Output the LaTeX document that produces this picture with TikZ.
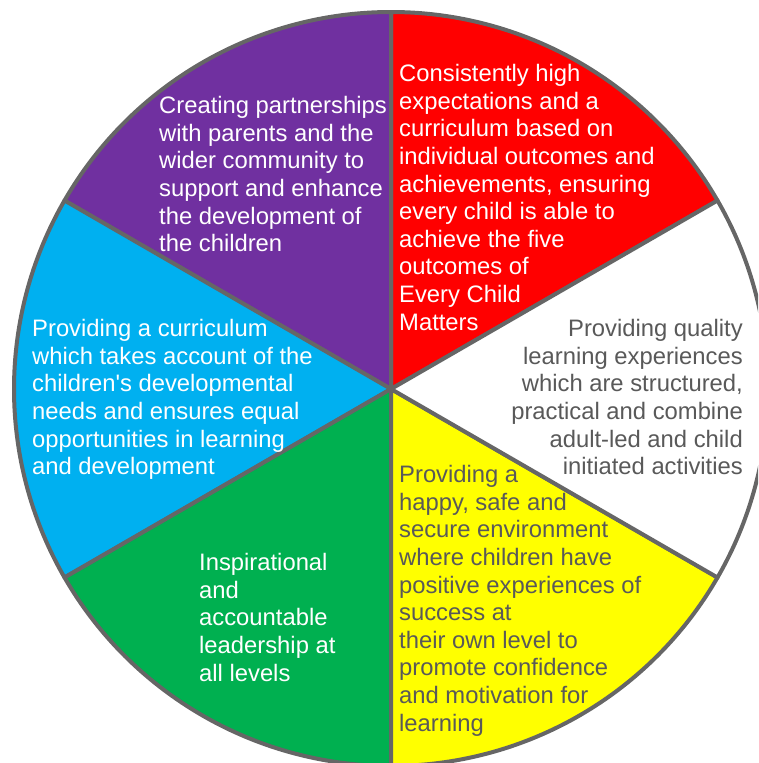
\documentclass[tikz,border=0pt]{standalone}
\usepackage{fontspec}
\setmainfont{Liberation Sans}
\definecolor{piePurple}{HTML}{7030A0}
\definecolor{pieRed}{HTML}{FF0000}
\definecolor{pieYellow}{HTML}{FFFF00}
\definecolor{pieGreen}{HTML}{00B050}
\definecolor{pieBlue}{HTML}{00B0F0}
\definecolor{rimGray}{HTML}{666666}
\definecolor{textGray}{HTML}{595959}
\tikzset{
    sector/.style = {draw = rimGray, line width = 4pt, line join = round},
    label/.style  = {inner sep = 0pt, align = left, anchor = north west,
                     font = \fontsize{23.8}{27.6}\selectfont},
}
\begin{document}
\begin{tikzpicture}[x = 1pt, y = 1pt]
            \useasboundingbox (0,0) rectangle (758,-763);
            \clip (0,0) rectangle (758,-763);
            \coordinate (c) at (391,-389);

            %Sectors
            \filldraw [sector, fill = pieRed]
            (c) -- ++(30:377) arc [start angle = 30, end angle = 90, radius = 377] -- cycle;
            \filldraw [sector, fill = piePurple]
            (c) -- ++(90:377) arc [start angle = 90, end angle = 150, radius = 377] -- cycle;
            \filldraw [sector, fill = pieBlue]
            (c) -- ++(150:377) arc [start angle = 150, end angle = 210, radius = 377] -- cycle;
            \filldraw [sector, fill = pieGreen]
            (c) -- ++(210:377) arc [start angle = 210, end angle = 270, radius = 377] -- cycle;
            \filldraw [sector, fill = pieYellow]
            (c) -- ++(270:377) arc [start angle = 270, end angle = 330, radius = 377] -- cycle;
            \filldraw [sector, fill = white]
            (c) -- ++(-30:377) arc [start angle = -30, end angle = 30, radius = 377] -- cycle;

            %Red
            \node [label, text = white]
            (expect)at(399,-64.2){Consistently high\\expectations and a\\curriculum based on\\individual outcomes and\\achievements, ensuring\\every child is able to\\achieve the five\\outcomes of\\Every Child\\Matters};
            %Purple
            \node [label, text = white]
            (partner)at(159,-96.2){Creating partnerships\\with parents and the\\wider community to\\support and enhance\\the development of\\the children};
            %White
            \node [label, text = textGray, align = right, anchor = north east]
            (quality)at(743,-319.2){Providing quality\\learning experiences\\which are structured,\\practical and combine\\adult-led and child\\initiated activities};
            %Blue
            \node [label, text = white]
            (needs)at(32,-319.2){Providing a curriculum\\which takes account of the\\children\textquotesingle s developmental\\needs and ensures equal\\opportunities in learning\\and development};
            %Yellow
            \node [label, text = textGray]
            (secure)at(399,-465.2){Providing a\\happy, safe and\\secure environment\\where children have\\positive experiences of\\success at\\their own level to\\promote confidence\\and motivation for\\learning};
            %Green
            \node [label, text = white]
            (lead)at(199,-553.2){Inspirational\\and\\accountable\\leadership at\\all levels};

        \end{tikzpicture}
\end{document}
